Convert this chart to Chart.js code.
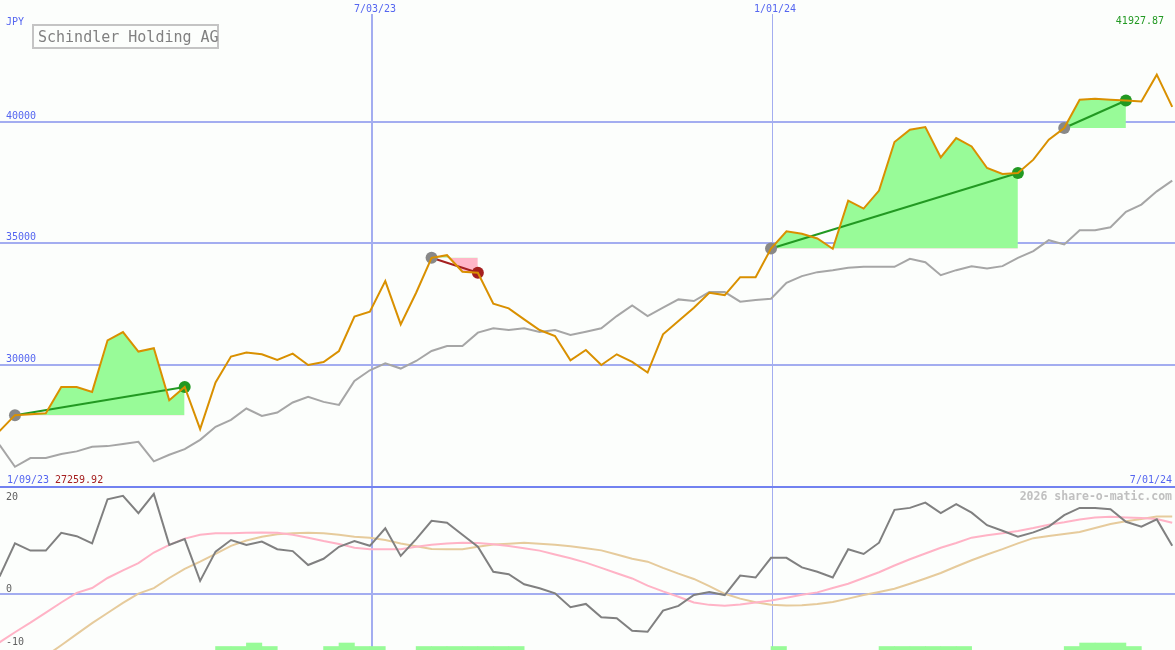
<!DOCTYPE html>
<html>
<head>
<meta charset="utf-8">
<script src="https://cdn.jsdelivr.net/npm/chart.js@4.4.0/dist/chart.umd.min.js"></script>
<style>
  html, body { margin: 0; padding: 0; background: #fcfefc; }
  #wrap { position: relative; width: 1175px; height: 650px; overflow: hidden; }
  canvas { position: absolute; left: 0; }
  #main { top: 0; }
  #osc { top: 486px; }
</style>
</head>
<body>
<div id="wrap">
  <canvas id="main" width="1175" height="486"></canvas>
  <canvas id="osc" width="1175" height="164"></canvas>
</div>
<script>
/* weekly closes, JPY */
const price = [27259.92, 27915, 27956, 27997, 29077, 29077, 28872, 30995, 31336, 30531,
  30667, 28531, 29077, 27340, 29258, 30326, 30490, 30420, 30186, 30449,
  29981, 30104, 30556, 31969, 32174, 33431, 31652, 32954, 34391, 34498,
  33816, 33775, 32502, 32309, 31858, 31418, 31171, 30174, 30597, 29981,
  30420, 30104, 29669, 31241, 31788, 32338, 32954, 32856, 33595, 33595,
  34774, 35484, 35377, 35184, 34761, 36745, 36416, 37156, 39156, 39661,
  39772, 38524, 39320, 38975, 38088, 37842, 37882, 38429, 39250, 39731,
  40893, 40934, 40900, 40864, 40823, 41927.87, 40600];

/* slow average (gray) */
const avg = [26695, 25792, 26149, 26149, 26313, 26424, 26613, 26641, 26724, 26818,
  26013, 26285, 26519, 26900, 27434, 27722, 28190, 27886, 28025, 28436,
  28666, 28461, 28338, 29324, 29763, 30051, 29833, 30145, 30556, 30761,
  30761, 31311, 31488, 31418, 31488, 31336, 31418, 31212, 31350, 31488,
  31993, 32432, 31993, 32338, 32679, 32610, 32979, 32979, 32584, 32651,
  32708, 33365, 33636, 33801, 33882, 33980, 34022, 34022, 34022, 34350,
  34211, 33677, 33882, 34047, 33952, 34047, 34391, 34665, 35115, 34938,
  35525, 35525, 35648, 36281, 36580, 37127, 37567];

/* lower panel */
const momentum = [3.7, 10.6, 9.1, 9.1, 12.8, 12.1, 10.6, 19.8, 20.5, 16.9,
  20.9, 10.3, 11.5, 2.8, 8.9, 11.3, 10.3, 11.0, 9.4, 9.0,
  6.1, 7.4, 9.9, 11.1, 10.1, 13.75, 8.0, 11.5, 15.3, 14.9,
  12.4, 9.9, 4.7, 4.2, 2.1, 1.25, 0.2, -2.7, -2.0, -4.8,
  -5.0, -7.6, -7.8, -3.4, -2.4, -0.15, 0.5, -0.15, 3.9, 3.5,
  7.6, 7.6, 5.6, 4.7, 3.5, 9.4, 8.4, 10.75, 17.6, 18.0,
  19.1, 16.9, 18.8, 17.0, 14.4, 13.25, 12.0, 12.9, 14.1, 16.5,
  18.0, 18.0, 17.7, 15.1, 14.1, 15.6, 10.1];

const fastAvg = [-10, -7.9, -5.9, -3.8, -1.7, 0.3, 1.3, 3.4, 5.0, 6.5,
  8.7, 10.3, 11.6, 12.4, 12.7, 12.7, 12.8, 12.9, 12.8, 12.4,
  11.8, 11.1, 10.5, 9.7, 9.4, 9.4, 9.4, 9.9, 10.3, 10.6,
  10.75, 10.7, 10.45, 10.05, 9.6, 9.1, 8.3, 7.5, 6.6, 5.5,
  4.4, 3.3, 1.8, 0.6, -0.5, -1.7, -2.2, -2.4, -2.1, -1.7,
  -1.3, -0.7, -0.1, 0.4, 1.3, 2.2, 3.4, 4.6, 6.0, 7.3,
  8.5, 9.7, 10.7, 11.8, 12.3, 12.7, 13.2, 13.8, 14.5, 15.0,
  15.6, 16.0, 16.15, 16.0, 15.9, 15.7, 14.9];

const slowAvg = [-19.7, -17.4, -15.1, -12.85, -10.6, -8.3, -6.0, -3.9, -1.8, 0.15,
  1.3, 3.4, 5.3, 6.8, 8.4, 10.1, 11.2, 12.0, 12.5, 12.7,
  12.8, 12.7, 12.4, 12.0, 11.8, 11.3, 10.6, 10.0, 9.45, 9.4,
  9.4, 9.9, 10.35, 10.55, 10.75, 10.55, 10.3, 10.0, 9.6, 9.15,
  8.3, 7.4, 6.8, 5.5, 4.3, 3.2, 1.7, 0.1, -0.9, -1.65,
  -2.15, -2.35, -2.3, -2.0, -1.6, -0.9, -0.15, 0.5, 1.15, 2.2,
  3.3, 4.45, 5.8, 7.1, 8.3, 9.4, 10.6, 11.7, 12.15, 12.55,
  13.0, 13.8, 14.65, 15.2, 15.7, 16.2, 16.2];

/* signal strength per week (0 = none) */
const signal = [0, 0, 0, 0, 0, 0, 0, 0, 0, 0,
  0, 0, 0, 0, 1, 1, 2, 1, 0, 0,
  0, 1, 2, 1, 1, 0, 0, 1, 1, 1,
  1, 1, 1, 1, 0, 0, 0, 0, 0, 0,
  0, 0, 0, 0, 0, 0, 0, 0, 0, 0,
  1, 0, 0, 0, 0, 0, 0, 1, 1, 1,
  1, 1, 1, 0, 0, 0, 0, 0, 0, 1,
  2, 2, 2, 1, 0, 0, 0];

/* trend segments: start / end week */
const trendFrom = [1, 28, 50, 69];
const trendTo = [12, 31, 66, 73];

const priceTicks = [30000, 35000, 40000];
const oscTicks = [20, 0, -10];
const dateLabels = ['7/03/23', '1/01/24'];
const datePos = [24.14, 50.06];
const dateLineWidths = [2, 1];
const firstDate = '1/09/23';
const lastDate = '7/01/24';
const title = 'Schindler Holding AG';

/* colours */
const cPrice = '#d99000';
const cAvg = '#a6a6a6';
const cGrid = '#a3adf0';
const cSep = '#7282f0';
const cBlue = '#5566f0';
const cUp = '#229922';
const cDown = '#a52020';
const cDot = '#888888';
const fillUp = '#98fb98';
const fillDown = '#ffb6c8';
const mono = '"DejaVu Sans Mono", "Liberation Mono", monospace';

const xMin = 0.03;
const xMax = 0.03 + 1175 / 15.43;
const pts = arr => arr.map((v, i) => ({ x: i, y: v }));

/* ---------- main panel ---------- */
const mainSets = [
  { data: pts(price), borderColor: cPrice, borderWidth: 2, pointRadius: 0, order: 1 },
  { data: pts(avg), borderColor: cAvg, borderWidth: 2, pointRadius: 0, order: 3 },
];

trendFrom.forEach((a, k) => {
  const b = trendTo[k];
  const up = price[b] >= price[a];
  mainSets.push({
    data: price.slice(a, b + 1).map((v, j) => ({ x: a + j, y: v })),
    borderWidth: 0,
    borderColor: 'transparent',
    pointRadius: 0,
    fill: { target: { value: price[a] }, above: fillUp, below: fillDown },
    order: 4,
  });
  mainSets.push({
    data: [{ x: a, y: price[a] }, { x: b, y: price[b] }],
    borderColor: up ? cUp : cDown,
    borderWidth: 2,
    pointRadius: 6,
    pointBorderWidth: 0,
    pointBackgroundColor: [cDot, up ? cUp : cDown],
    order: 2,
  });
});

const mainDecor = {
  id: 'mainDecor',
  beforeDatasetsDraw(chart) {
    const { ctx, chartArea, scales: { x, y } } = chart;
    ctx.save();
    ctx.strokeStyle = cGrid;
    ctx.lineWidth = 2;
    priceTicks.forEach(v => {
      const py = Math.round(y.getPixelForValue(v));
      ctx.beginPath();
      ctx.moveTo(chartArea.left, py);
      ctx.lineTo(chartArea.right, py);
      ctx.stroke();
    });
    datePos.forEach((d, k) => {
      const px = Math.round(x.getPixelForValue(d)) + (dateLineWidths[k] === 1 ? 0.5 : 0);
      ctx.lineWidth = dateLineWidths[k];
      ctx.beginPath();
      ctx.moveTo(px, 14);
      ctx.lineTo(px, chartArea.bottom);
      ctx.stroke();
    });
    ctx.restore();
  },
  afterDraw(chart) {
    const { ctx, chartArea, scales: { x, y } } = chart;
    ctx.save();
    ctx.font = '10px ' + mono;
    ctx.fillStyle = cBlue;
    ctx.textAlign = 'left';
    ctx.fillText('JPY', 6, 25);
    priceTicks.forEach(v => {
      ctx.fillText(String(v), 6, Math.round(y.getPixelForValue(v)) - 3);
    });
    ctx.textAlign = 'center';
    datePos.forEach((d, k) => {
      ctx.fillText(dateLabels[k], x.getPixelForValue(d) + 3, 12);
    });
    ctx.textAlign = 'left';
    ctx.fillText(firstDate, 7, 483);
    ctx.fillStyle = cDown;
    ctx.fillText(Math.min(...price).toFixed(2), 55, 483);
    ctx.textAlign = 'right';
    ctx.fillStyle = cBlue;
    ctx.fillText(lastDate, chartArea.right - 3, 483);
    ctx.fillStyle = cUp;
    ctx.fillText(Math.max(...price).toFixed(2), 1164, 24);

    // title box
    ctx.strokeStyle = '#c4c4c4';
    ctx.lineWidth = 2;
    ctx.strokeRect(33, 25, 185, 23);
    ctx.font = '15px ' + mono;
    ctx.fillStyle = '#808080';
    ctx.textAlign = 'left';
    ctx.fillText(title, 38, 42);
    ctx.restore();
  },
};

new Chart(document.getElementById('main').getContext('2d'), {
  type: 'line',
  data: { datasets: mainSets },
  options: {
    responsive: false,
    animation: false,
    devicePixelRatio: 1,
    events: [],
    layout: { padding: 0, autoPadding: false },
    elements: { line: { tension: 0 } },
    plugins: { legend: { display: false }, tooltip: { enabled: false } },
    scales: {
      x: { type: 'linear', min: xMin, max: xMax, display: false, offset: false },
      y: { type: 'linear', min: 25000, max: 45000, display: false },
    },
  },
  plugins: [mainDecor],
});

/* ---------- lower panel ---------- */
const oscDecor = {
  id: 'oscDecor',
  beforeDatasetsDraw(chart) {
    const { ctx, chartArea, scales: { x, y } } = chart;
    ctx.save();
    ctx.strokeStyle = cGrid;
    ctx.lineWidth = 2;
    const zy = Math.round(y.getPixelForValue(0));
    ctx.beginPath();
    ctx.moveTo(chartArea.left, zy);
    ctx.lineTo(chartArea.right, zy);
    ctx.stroke();
    datePos.forEach((d, k) => {
      const px = Math.round(x.getPixelForValue(d)) + (dateLineWidths[k] === 1 ? 0.5 : 0);
      ctx.lineWidth = dateLineWidths[k];
      ctx.beginPath();
      ctx.moveTo(px, 0);
      ctx.lineTo(px, chartArea.bottom);
      ctx.stroke();
    });
    ctx.strokeStyle = cSep;
    ctx.lineWidth = 2;
    ctx.beginPath();
    ctx.moveTo(chartArea.left, 1);
    ctx.lineTo(chartArea.right, 1);
    ctx.stroke();
    ctx.restore();
  },
  afterDraw(chart) {
    const { ctx, chartArea, scales: { y } } = chart;
    ctx.save();
    ctx.font = '10px ' + mono;
    ctx.fillStyle = '#606060';
    ctx.textAlign = 'left';
    oscTicks.forEach((v, k) => {
      const py = Math.round(y.getPixelForValue(v));
      // lowest tick sits on its line, the others just above it
      const base = k === oscTicks.length - 1 ? py + 3 : py - 2;
      ctx.fillText(String(v), 6, Math.max(14, Math.min(chartArea.bottom - 4, base)));
    });
    ctx.font = 'bold 11.5px ' + mono;
    ctx.fillStyle = '#c0c0c0';
    ctx.textAlign = 'right';
    ctx.fillText('2026 share-o-matic.com', chartArea.right - 3, 14);
    ctx.restore();
  },
};

new Chart(document.getElementById('osc').getContext('2d'), {
  type: 'line',
  data: {
    datasets: [
      { data: pts(momentum), borderColor: '#808080', borderWidth: 2, pointRadius: 0, order: 1 },
      { data: pts(fastAvg), borderColor: '#ffb3c6', borderWidth: 2, pointRadius: 0, order: 2 },
      { data: pts(slowAvg), borderColor: '#e6cb9c', borderWidth: 2, pointRadius: 0, order: 3 },
      {
        type: 'bar',
        data: signal.map((s, i) => ({ x: i + 0.5, y: s ? s : null })),
        yAxisID: 'yb',
        backgroundColor: fillUp,
        borderWidth: 0,
        barPercentage: 1,
        categoryPercentage: 1,
        order: 4,
      },
    ],
  },
  options: {
    responsive: false,
    animation: false,
    devicePixelRatio: 1,
    events: [],
    layout: { padding: 0, autoPadding: false },
    elements: { line: { tension: 0 } },
    plugins: { legend: { display: false }, tooltip: { enabled: false } },
    scales: {
      x: { type: 'linear', min: xMin, max: xMax, display: false, offset: false },
      y: { type: 'linear', min: -11.6, max: 22.56, display: false },
      yb: { type: 'linear', min: 0, max: 46.9, display: false },
    },
  },
  plugins: [oscDecor],
});
</script>
</body>
</html>
